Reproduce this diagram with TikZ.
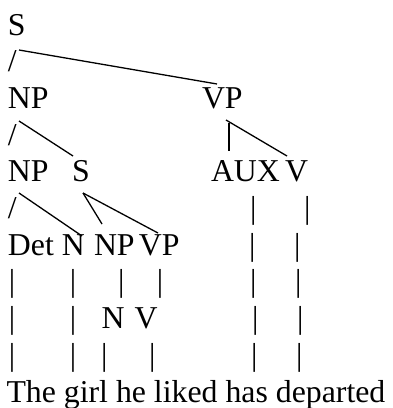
\documentclass[tikz,border=0pt]{standalone}
\usepackage{fontspec}
\setmainfont{Liberation Serif}
\newcommand\treefont{\fontsize{31.8}{37}\selectfont}
\begin{document}
\begin{tikzpicture}[x=1pt,y=-1pt,
  txt/.style={anchor=base west,inner sep=0pt,outer sep=0pt,font=\treefont},
  branch/.style={draw=black,line width=1.3pt}]
\useasboundingbox (0,0) rectangle (393,408);
% row 0
\node[txt] (S0) at (8,35) {S};
% row 1
\node[txt] (sl1) at (8,71.7) {/};
% row 2
\node[txt] (NP2) at (8,108.4) {NP};
\node[txt] (VP2) at (202,108.4) {VP};
% row 3
\node[txt] (sl3) at (8,145.1) {/};
% row 4
\node[txt] (NP4) at (8,181.8) {NP};
\node[txt] (S4) at (72,181.8) {S};
\node[txt] (AUX4) at (211,181.8) {AUX};
\node[txt] (V4) at (285,181.8) {V};
% row 5
\node[txt] (sl5) at (8,218.5) {/};
\node[txt] (b5a) at (250,218.5) {|};
\node[txt] (b5b) at (304,218.5) {|};
% row 6
\node[txt] (Det6) at (8,255.2) {Det};
\node[txt] (N6) at (62,255.2) {N};
\node[txt] (NP6) at (94,255.2) {NP};
\node[txt] (VP6) at (139,255.2) {VP};
\node[txt] (b6a) at (249,255.2) {|};
\node[txt] (b6b) at (294,255.2) {|};
% row 7
\node[txt] (b7a) at (9,291.9) {|};
\node[txt] (b7b) at (70,291.9) {|};
\node[txt] (b7c) at (118,291.9) {|};
\node[txt] (b7d) at (157,291.9) {|};
\node[txt] (b7e) at (250,291.9) {|};
\node[txt] (b7f) at (295,291.9) {|};
% row 8
\node[txt] (b8a) at (9,328.6) {|};
\node[txt] (b8b) at (70,328.6) {|};
\node[txt] (N8) at (101.5,328.6) {N};
\node[txt] (V8) at (134.5,328.6) {V};
\node[txt] (b8e) at (252,328.6) {|};
\node[txt] (b8f) at (297,328.6) {|};
% row 9
\node[txt] (b9a) at (9,365.3) {|};
\node[txt] (b9b) at (70,365.3) {|};
\node[txt] (b9c) at (101,365.3) {|};
\node[txt] (b9d) at (149,365.3) {|};
\node[txt] (b9e) at (251,365.3) {|};
\node[txt] (b9f) at (296,365.3) {|};
% row 10
\node[txt] (words) at (6.5,402) {The girl he liked has departed};
% branch end points
\coordinate (S0r) at (19,50);
\coordinate (VP2t) at (217,84);
\coordinate (NP2r) at (19,121);
\coordinate (S4t) at (73,156);
\coordinate (VP2d) at (226,120);
\coordinate (V4t) at (287,156);
\coordinate (VP2v) at (229,123);
\coordinate (AUX4t) at (229,151);
\coordinate (NP4r) at (19,193);
\coordinate (N6t) at (82,236);
\coordinate (S4b) at (83,193);
\coordinate (NP6t) at (102,224);
\coordinate (VP6t) at (158,233);
\draw[branch] (S0r) -- (VP2t);
\draw[branch] (NP2r) -- (S4t);
\draw[branch] (VP2d) -- (V4t);
\draw[branch] (VP2v) -- (AUX4t);
\draw[branch] (NP4r) -- (N6t);
\draw[branch] (S4b) -- (NP6t);
\draw[branch] (S4b) -- (VP6t);
\end{tikzpicture}
\end{document}
